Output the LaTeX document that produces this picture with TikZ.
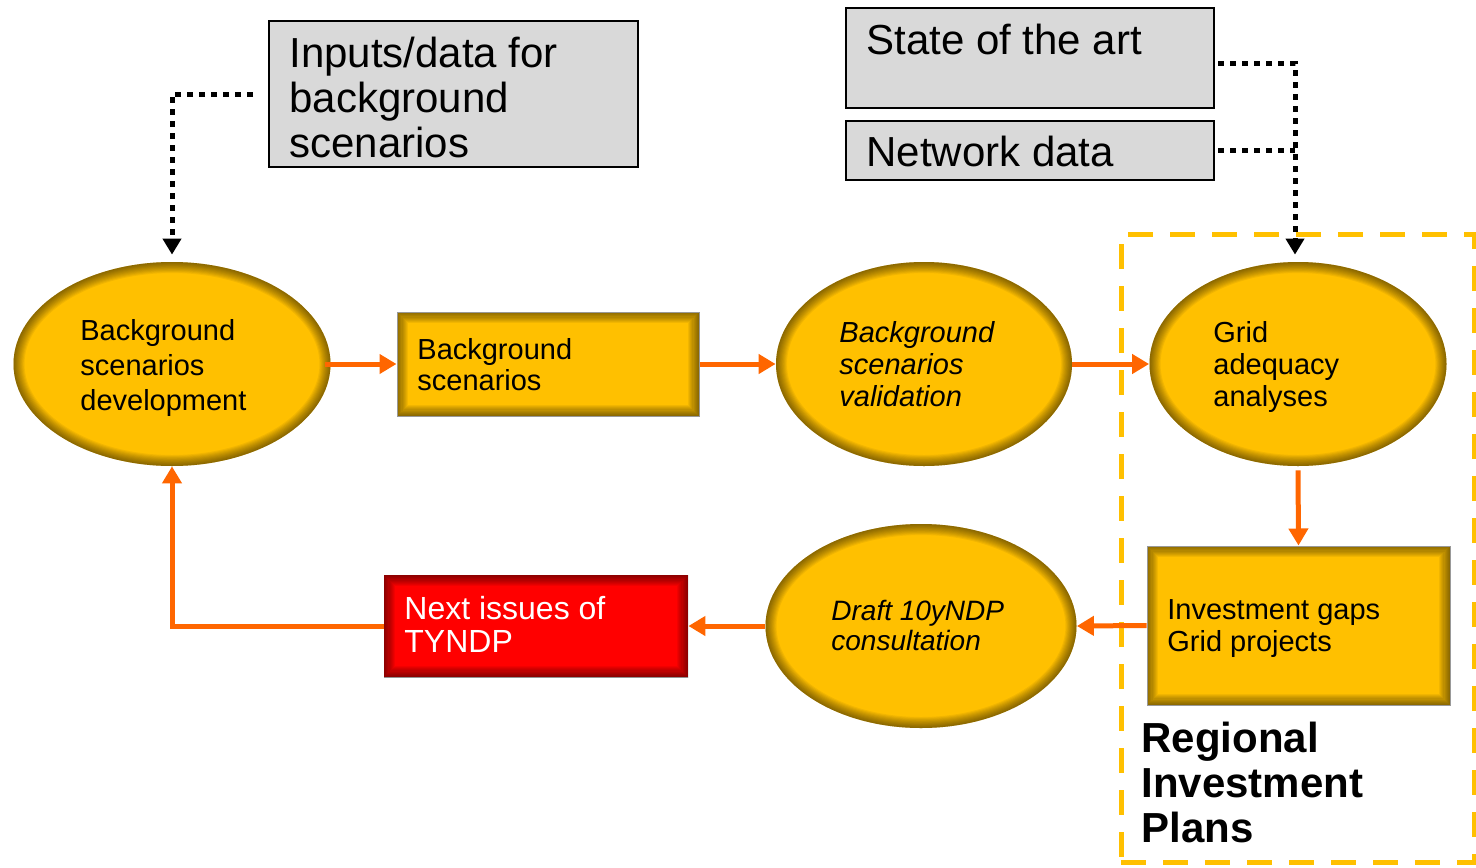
\documentclass[tikz,border=0pt]{standalone}
\usepackage{fontspec}
\setmainfont{Liberation Sans}
\usetikzlibrary{shapes.geometric,arrows.meta,calc}

\definecolor{gold}{HTML}{FFC000}
\definecolor{flow}{HTML}{FF6600}
\definecolor{panel}{HTML}{D9D9D9}
\definecolor{alert}{HTML}{FF0000}

\tikzset{
  % soft dark rim inside an ellipse
  ellglow/.style={path picture={
    \foreach \w in {1,2,...,10}{
      \draw[line width=\w*1.1pt, draw=#1, draw opacity=0.055]
        let \p1=(path picture bounding box.north east),
            \p2=(path picture bounding box.center)
        in (\p2) ellipse ({\x1-\x2} and {\y1-\y2});
    }}},
  % soft dark rim inside a rectangle
  boxglow/.style={path picture={
    \foreach \w in {1,2,...,10}{
      \draw[line width=\w*1.1pt, draw=#1, draw opacity=0.055]
        (path picture bounding box.south west) rectangle
        (path picture bounding box.north east);
    }}},
  stage/.style={ellipse, fill=gold, inner sep=0pt, ellglow=black},
  product/.style={rectangle, fill=gold, draw=gray!80, line width=0.5pt,
    inner sep=0pt, boxglow=black},
  nextbox/.style={rectangle, fill=alert, inner sep=0pt, boxglow=black},
  source/.style={rectangle, fill=panel, draw=black, line width=1pt, inner sep=0pt},
  region/.style={rectangle, draw=gold, line width=2.5pt,
    dash pattern=on 12.5pt off 8.5pt, inner sep=0pt},
  txt/.style={anchor=north west, inner sep=0pt, align=left},
  flowarrow/.style={draw=flow, line width=2.5pt,
    -{Triangle[width=9.5pt,length=8.5pt]}},
  feed/.style={draw=black, line width=2.5pt, dash pattern=on 3pt off 3pt,
    -{Triangle[width=9pt,length=8pt]}},
  feedline/.style={draw=black, line width=2.5pt, dash pattern=on 3pt off 3pt},
}

\begin{document}
\begin{tikzpicture}[x=0.5pt, y=-0.5pt]
\useasboundingbox (0,0) rectangle (1476,867);

% regional investment plans frame
\node[region, minimum width=176.5pt, minimum height=314pt] (rip) at (1297.5,548) {};

% input panels
\node[source, minimum width=184.5pt, minimum height=73pt] (inputs) at (453.5,94) {};
\node[source, minimum width=184pt, minimum height=50pt] (state) at (1030,58) {};
\node[source, minimum width=184pt, minimum height=29.5pt] (network) at (1030,150.5) {};

% process steps
\node[stage, minimum width=158.5pt, minimum height=102pt] (e1) at (172,364) {};
\node[product, minimum width=151pt, minimum height=52pt] (bs) at (548,364) {};
\node[stage, minimum width=148pt, minimum height=102pt] (e2) at (924,364) {};
\node[stage, minimum width=148.5pt, minimum height=102pt] (e3) at (1298,364) {};
\node[product, minimum width=151.5pt, minimum height=79.5pt] (inv) at (1298.5,625.5) {};
\node[stage, minimum width=155.5pt, minimum height=102pt] (e4) at (921,626) {};
\node[nextbox, minimum width=152pt, minimum height=51pt] (next) at (536,626) {};

% texts
\node[txt, font=\fontsize{21pt}{22.5pt}\selectfont] (tinputs) at (289,37)
  {Inputs/data for\\background\\scenarios};
\node[txt, font=\fontsize{21pt}{22.5pt}\selectfont] (tstate) at (866,24)
  {State of the art};
\node[txt, font=\fontsize{21pt}{22.5pt}\selectfont] (tnetwork) at (866,136)
  {Network data};
\node[txt, font=\fontsize{14.5pt}{17.5pt}\selectfont] (te1) at (80,319)
  {Background\\scenarios\\development};
\node[txt, font=\fontsize{14.5pt}{15.5pt}\selectfont] (tbs) at (417,338)
  {Background\\scenarios};
\node[txt, font=\fontsize{14.5pt}{16pt}\selectfont\itshape] (te2) at (839,321)
  {Background\\scenarios\\validation};
\node[txt, font=\fontsize{14.5pt}{16pt}\selectfont] (te3) at (1213,321)
  {Grid\\adequacy\\analyses};
\node[txt, font=\fontsize{14.5pt}{16pt}\selectfont] (tinv) at (1167,599)
  {Investment gaps\\Grid projects};
\node[txt, font=\fontsize{14pt}{15pt}\selectfont\itshape] (te4) at (831,600)
  {Draft 10yNDP\\consultation};
\node[txt, font=\fontsize{16pt}{16.5pt}\selectfont, text=white] (tnext) at (404,596)
  {Next issues of\\TYNDP};
\node[txt, font=\fontsize{21pt}{22.5pt}\selectfont\bfseries] (trip) at (1141,722)
  {Regional\\Investment\\Plans};

% data feeds
\coordinate (drop) at ([xshift=-1.5pt]e3.north);
\draw[feed, shorten >=3.5pt] ([xshift=-7.5pt]inputs.west) -| (e1.north);
\draw[feed, shorten >=3.5pt] ([xshift=1.5pt,yshift=-2.5pt]state.east) -| (drop);
\draw[feedline] ([xshift=1.5pt]network.east) -- (network.east -| drop);

% process flow
\draw[flowarrow] ([xshift=-3pt]e1.east) -- (bs.west);
\draw[flowarrow] (bs.east) -- (e2.west);
\draw[flowarrow] (e2.east) -- (e3.west);
\draw[flowarrow] ([yshift=-2pt]e3.south) -- (inv.north);
\draw[flowarrow] (inv.west) -- (e4.east);
\draw[flowarrow] (e4.west) -- (next.east);
\draw[flowarrow] (next.west) -| (e1.south);
\end{tikzpicture}
\end{document}
